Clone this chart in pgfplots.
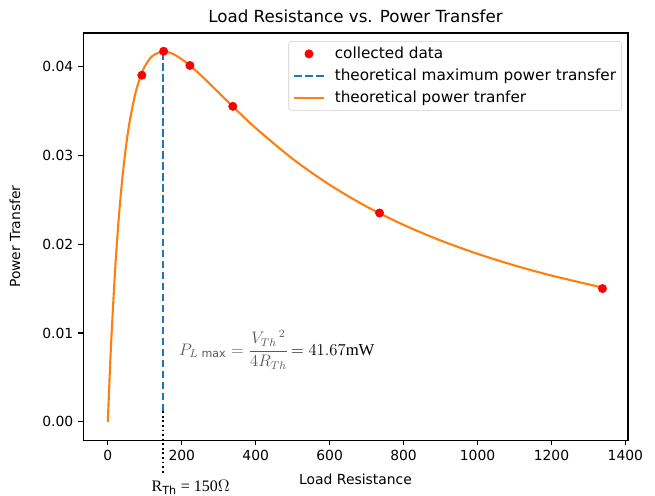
\documentclass[border=0pt]{standalone}
\usepackage{amsmath}
\usepackage{pgfplots}
\pgfplotsset{compat=1.18}
\usepackage{fontspec}
\setmainfont{DejaVu Sans}
\newfontfamily\serifann{Liberation Serif}
\usetikzlibrary{calc}
\definecolor{mplblue}{HTML}{1F77B4}
\definecolor{mplorange}{HTML}{FF7F0E}

\begin{document}
\begin{tikzpicture}
\begin{axis}[
    name=ax,
    scale only axis,
    width=392pt, height=293pt,
    xmin=-67, xmax=1407,
    ymin=-0.00208, ymax=0.04375,
    xtick={0,200,...,1400},
    ytick={0,0.01,0.02,0.03,0.04},
    xticklabel style={/pgf/number format/1000 sep={}},
    yticklabel style={/pgf/number format/.cd, fixed, fixed zerofill, precision=2},
    /pgf/number format/assume math mode=true,
    scaled y ticks=false,
    tick align=outside,
    tick pos=left,
    major tick length=3.5pt,
    axis line style={line width=0.8pt},
    every tick/.style={black, line width=0.8pt},
    tick label style={font=\fontsize{10}{12}\selectfont},
    label style={font=\fontsize{10}{12}\selectfont},
    xlabel={Load Resistance},
    ylabel={Power Transfer},
    xlabel style={yshift=-3pt},
    ylabel style={yshift=9pt},
    title={Load Resistance vs. Power Transfer},
    title style={font=\fontsize{12}{14}\selectfont, yshift=-2pt},
    clip=false,
    legend style={at={(0.989,0.980)}, anchor=north east, draw=black!20, rounded corners=2pt,
        font=\fontsize{11}{12}\selectfont, row sep=4pt, column sep=6pt, inner sep=3pt,
        nodes={inner sep=1pt}},
    legend image code/.code={\draw[mark repeat=2,mark phase=2,#1] plot coordinates {(0cm,0cm) (0.38cm,0cm) (0.76cm,0cm)};},
    legend cell align=left,
]
\addlegendimage{only marks, mark=*, red, mark size=3pt}
\addlegendentry{collected data}
\addlegendimage{mplblue, line width=1.5pt, dash pattern=on 5.5pt off 2.4pt}
\addlegendentry{theoretical maximum power transfer}
\addlegendimage{mplorange, line width=1.5pt}
\addlegendentry{theoretical power tranfer}

% theoretical curve
\addplot[mplorange, line width=1.5pt, smooth, forget plot] coordinates {
(0,0) (5,0.005203) (10,0.009766) (20,0.017301) (30,0.023148) (40,0.027701)
(50,0.03125) (60,0.034014) (75,0.037037) (90,0.039063) (100,0.04) (120,0.041152)
(150,0.041667) (180,0.041322) (220,0.040175) (260,0.038667) (300,0.037037)
(350,0.035) (400,0.033058) (500,0.029586) (600,0.026667) (700,0.024221)
(800,0.022161) (900,0.020408) (1000,0.018904) (1100,0.0176) (1200,0.016461)
(1340,0.015089)};

% max power line
\addplot[mplblue, line width=1.5pt, dash pattern=on 5.5pt off 2.4pt, forget plot]
    coordinates {(150,0.0012) (150,0.041667)};
\addplot[black, line width=1.3pt, dotted, forget plot]
    coordinates {(150,0.0012) (150,-0.0058)};

% collected data
\addplot[only marks, mark=*, red, mark size=3pt, forget plot] coordinates {
(92,0.0390) (151,0.0417) (222,0.0401) (338,0.0355) (735,0.0235) (1338,0.0150)};

\node[anchor=west, font=\serifann\fontsize{12}{14}\selectfont, inner sep=0pt] at (axis cs:192,0.0081)
    {\textcolor{black!65}{$P_{L\,\max}=\dfrac{V_{Th}{}^{\,2}}{4R_{Th}}$}$\,=41.67$mW};
\node[font=\serifann\fontsize{11.5}{13}\selectfont, inner sep=0pt] at (axis cs:224,-0.0074)
    {R$_{\mathrm{Th}}$ = 150$\Omega$};
\end{axis}
\pgfresetboundingbox
\path[use as bounding box] ($(ax.south west)+(-59.76pt,-39.6pt)$) rectangle ($(ax.north east)+(19.44pt,23.76pt)$);
\end{tikzpicture}
\end{document}
